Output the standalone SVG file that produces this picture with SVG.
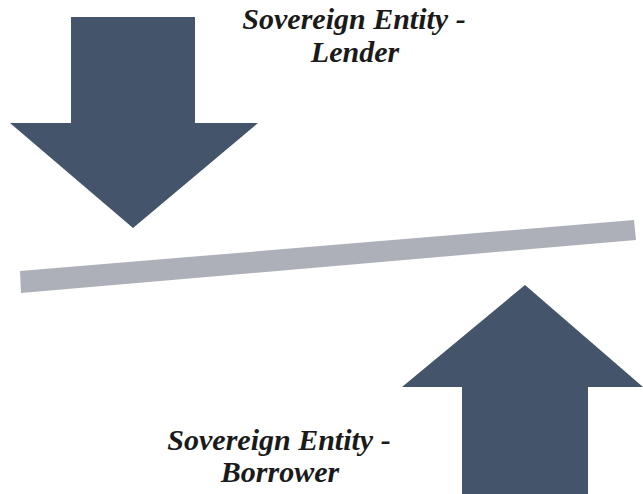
<svg xmlns="http://www.w3.org/2000/svg" width="643" height="494" viewBox="0 0 643 494">
<style>
.arrow{fill:#44546a}
.bar{fill:#adb0b8}
.lbl{font-family:"Liberation Serif","Times New Roman",serif;font-style:italic;font-weight:bold;font-size:30px;fill:#1a1a1a}
</style>
<rect width="643" height="494" fill="#ffffff"/>
<g id="connectors"/>
<g id="lender-arrow">
<polygon class="arrow" points="71,17 195,17 195,123 258,123 133,228 10,123 71,123"/>
</g>
<g id="borrower-arrow">
<polygon class="arrow" points="525,285 643,387 588,387 588,494 462,494 462,387 402,387"/>
</g>
<g id="balance-bar">
<polygon class="bar" points="20,271 634,220 636,240 21,293"/>
</g>
<g id="lender-label">
<text class="lbl" x="354" y="29" text-anchor="middle">Sovereign Entity -</text>
<text class="lbl" x="355" y="62" text-anchor="middle">Lender</text>
</g>
<g id="borrower-label">
<text class="lbl" x="279" y="450" text-anchor="middle">Sovereign Entity -</text>
<text class="lbl" x="280" y="482" text-anchor="middle">Borrower</text>
</g>
</svg>
